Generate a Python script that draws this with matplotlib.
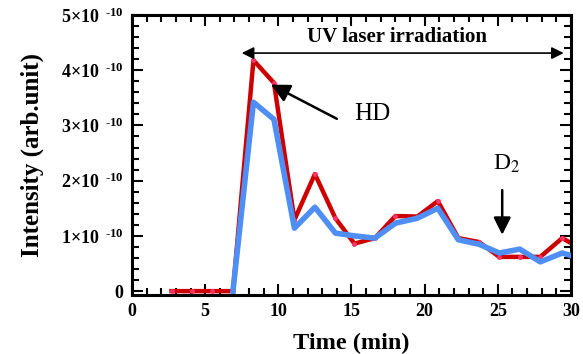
import numpy as np
import matplotlib.pyplot as plt
from matplotlib.ticker import MultipleLocator, FixedLocator, FixedFormatter

plt.rcParams['font.family'] = 'Liberation Serif'
plt.rcParams['mathtext.fontset'] = 'custom'
plt.rcParams['mathtext.rm'] = 'Liberation Serif:bold'
plt.rcParams['mathtext.it'] = 'Liberation Serif:bold'
plt.rcParams['mathtext.bf'] = 'Liberation Serif:bold'

# time (min)
time = [2.7, 4.1, 5.5, 6.9, 8.3, 9.7, 11.1, 12.5, 13.9, 15.2, 16.6, 18.0,
        19.5, 20.9, 22.3, 23.7, 25.1, 26.5, 27.9, 29.4, 30.8]
# intensities in units of 1e-10 (D2 not shown before 6.9 min)
hd = [0, 0, 0, 0, 4.18, 3.77, 1.29, 2.12, 1.32, 0.86, 0.96, 1.36,
      1.35, 1.63, 0.96, 0.89, 0.62, 0.62, 0.62, 0.96, 0.75]
d2 = [np.nan, np.nan, np.nan, 0, 3.42, 3.11, 1.14, 1.52, 1.05, 1.00, 0.96, 1.23,
      1.32, 1.50, 0.93, 0.85, 0.69, 0.76, 0.53, 0.69, 0.58]
ytick_vals = [0, 1, 2, 3, 4, 5]
ytick_labels = ['0'] + [f'{v}×10$^{{\\ \\ \\text{{-10}}}}$' for v in ytick_vals[1:]]

fig = plt.figure(figsize=(5.83, 3.54), dpi=100)
ax = fig.add_axes([0.2264, 0.1667, 0.753, 0.791])

scale = 1e-10
ax.plot(time, np.array(hd) * scale, color='#cc0000', lw=3.2, marker='o',
        markersize=2.5, markerfacecolor='#ff3366', markeredgecolor='#ff3366', zorder=2)
ax.plot(time, np.array(d2) * scale, color='#4f8ef5', lw=4, zorder=3)

ax.set_xlim(0, 30)
ax.set_ylim(-0.07e-10, 5e-10)

ax.xaxis.set_major_locator(MultipleLocator(5))
ax.xaxis.set_minor_locator(MultipleLocator(1))
ax.yaxis.set_major_locator(FixedLocator([v * scale for v in ytick_vals]))
ax.yaxis.set_major_formatter(FixedFormatter(ytick_labels))
ax.yaxis.set_minor_locator(MultipleLocator(0.2e-10))

ax.tick_params(which='both', direction='in', top=True, right=True, width=1.5)
ax.tick_params(which='major', length=8, labelsize=13, pad=6)
ax.tick_params(which='minor', length=5)
for lab in ax.get_xticklabels() + ax.get_yticklabels():
    lab.set_fontweight('bold')
for sp in ax.spines.values():
    sp.set_linewidth(2.2)

ax.set_xlabel('Time (min)', fontsize=17.5, fontweight='bold', labelpad=9)
ax.set_ylabel('Intensity (arb.unit)', fontsize=18, fontweight='bold', labelpad=12)

# UV laser double arrow
ax.annotate('', xy=(7.5, 4.31e-10), xytext=(29.5, 4.31e-10),
            arrowprops=dict(arrowstyle='<|-|>', color='black', lw=1.2,
                            mutation_scale=18, shrinkA=0, shrinkB=0))
ax.text(18.1, 4.42e-10, 'UV laser irradiation', ha='center', va='bottom',
        fontsize=15, fontweight='bold')

# HD arrow
ax.annotate('', xy=(9.5, 3.74e-10), xytext=(14.0, 3.12e-10),
            arrowprops=dict(arrowstyle='-|>', color='black', lw=1.8,
                            mutation_scale=28, shrinkA=0, shrinkB=0))
ax.text(16.4, 3.2e-10, 'HD', ha='center', va='center', fontsize=18)

# D2 arrow
ax.annotate('', xy=(25.3, 1.02e-10), xytext=(25.3, 1.83e-10),
            arrowprops=dict(arrowstyle='-|>', color='black', lw=1.8,
                            mutation_scale=26, shrinkA=0, shrinkB=0))
ax.text(25.6, 2.3e-10, 'D$_2$', ha='center', va='center', fontsize=17,
        math_fontfamily='stix')

fig.savefig('out.png', dpi=100)
